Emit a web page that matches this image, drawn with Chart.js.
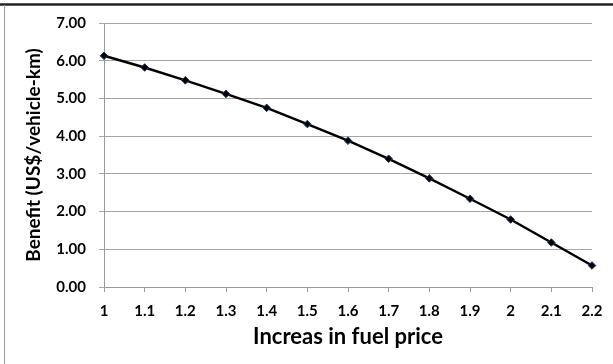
<!DOCTYPE html>
<html>
<head>
<meta charset="utf-8">
<script src="https://cdn.jsdelivr.net/npm/chart.js@4/dist/chart.umd.min.js"></script>
<style>
  html, body { margin: 0; padding: 0; background: #fff; }
  #wrap { position: relative; width: 613px; height: 364px; }
</style>
</head>
<body>
<div id="wrap"><canvas id="myChart" width="613" height="364"></canvas></div>
<script>
// fuel price multiplier (x) and benefit per vehicle-km (y)
var priceLabels = ["1", "1.1", "1.2", "1.3", "1.4", "1.5", "1.6", "1.7", "1.8", "1.9", "2", "2.1", "2.2"];
var benefit = [6.13, 5.82, 5.48, 5.12, 4.75, 4.32, 3.88, 3.40, 2.88, 2.34, 1.79, 1.18, 0.57];
var yTicks = [0, 1, 2, 3, 4, 5, 6, 7];

var FONT = "Lato, 'Open Sans', 'DejaVu Sans', sans-serif";

// thin frame round the chart (dark top rule, grey left edge)
var framePlugin = {
  id: "frame",
  afterDraw: function(chart) {
    var ctx = chart.ctx;
    ctx.save();
    ctx.strokeStyle = "#222";
    ctx.lineWidth = 2.5;
    ctx.beginPath();
    ctx.moveTo(0, 4.5);
    ctx.lineTo(chart.width, 4.5);
    ctx.stroke();
    ctx.strokeStyle = "#9a9a9a";
    ctx.lineWidth = 1;
    ctx.beginPath();
    ctx.moveTo(4.5, 5);
    ctx.lineTo(4.5, chart.height);
    ctx.stroke();
    ctx.restore();
  }
};

var ctx = document.getElementById("myChart").getContext("2d");
var myChart = new Chart(ctx, {
  type: "line",
  data: {
    labels: priceLabels,
    datasets: [
      {
        label: "Benefit",
        data: benefit,
        borderColor: "#000",
        borderWidth: 2.5,
        backgroundColor: "#000",
        pointStyle: "rectRot",
        pointRadius: 3.8,
        pointBackgroundColor: "#000",
        pointBorderColor: "#1c3a66",
        pointBorderWidth: 1,
        tension: 0
      }
    ]
  },
  options: {
    responsive: false,
    animation: false,
    layout: { padding: { left: 0, right: 21, top: 23, bottom: 0 } },
    plugins: {
      legend: { display: false },
      tooltip: { enabled: false }
    },
    scales: {
      x: {
        type: "category",
        offset: false,
        grid: { drawOnChartArea: false, drawTicks: true, tickLength: 5, color: "#9a9a9a" },
        border: { display: true, color: "#9a9a9a", width: 1 },
        ticks: {
          color: "#000",
          padding: 10,
          maxRotation: 0,
          autoSkip: false,
          font: { family: FONT, size: 15, weight: "bold" }
        },
        title: {
          display: true,
          text: "Increas in fuel price",
          color: "#000",
          padding: { top: 0, bottom: 14 },
          font: { family: FONT, size: 22, weight: "bold" }
        },
        afterFit: function(scale) { scale.height = 77; }
      },
      y: {
        min: 0,
        max: 7,
        afterBuildTicks: function(scale) {
          scale.ticks = yTicks.map(function(v) { return { value: v }; });
        },
        grid: { color: "#a6a6a6", lineWidth: 1, drawTicks: true, tickLength: 5 },
        border: { display: true, color: "#9a9a9a", width: 1 },
        ticks: {
          color: "#000",
          padding: 13,
          font: { family: FONT, size: 15, weight: "bold" },
          callback: function(v) { return Number(v).toFixed(2); }
        },
        title: {
          display: true,
          text: "Benefit (US$/vehicle-km)",
          color: "#000",
          padding: { top: 22, bottom: 0 },
          font: { family: FONT, size: 19, weight: "bold" }
        },
        afterFit: function(scale) { scale.width = 104; }
      }
    }
  },
  plugins: [framePlugin]
});
</script>
</body>
</html>
